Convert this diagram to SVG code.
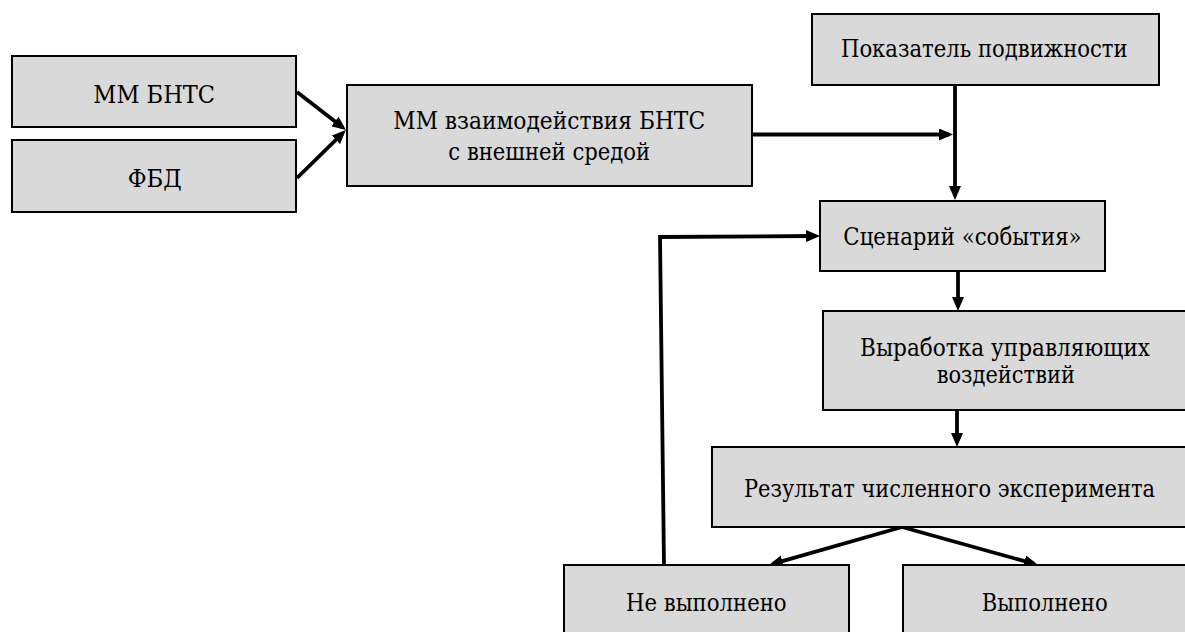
<svg xmlns="http://www.w3.org/2000/svg" width="1185" height="632" viewBox="0 0 1185 632">
  <style>
    .box { fill: #d9d9d9; stroke: #000; stroke-width: 2; }
    .lbl { font-family: "DejaVu Serif", "Liberation Serif", serif; font-stretch: condensed; font-size: 25px; fill: #000; text-anchor: middle; }
    .con { fill: none; stroke: #000; stroke-width: 3.8; stroke-linejoin: miter; }
  </style>
  <defs>
    <marker id="arr" viewBox="0 0 14 12" refX="10" refY="6" markerWidth="14" markerHeight="12" markerUnits="userSpaceOnUse" orient="auto">
      <path d="M0,0 L14,6 L0,12 z" fill="#000"/>
    </marker>
  </defs>
  <rect width="1185" height="632" fill="#fff"/>

  <g id="connectors">
    <line class="con" x1="297" y1="92" x2="342.8" y2="127.6" marker-end="url(#arr)"/>
    <line class="con" x1="297" y1="178" x2="343" y2="132.8" marker-end="url(#arr)"/>
    <line class="con" x1="752" y1="134.5" x2="949" y2="134.5" marker-end="url(#arr)"/>
    <line class="con" x1="955" y1="85" x2="955" y2="196" marker-end="url(#arr)"/>
    <line class="con" x1="958" y1="271" x2="958" y2="307" marker-end="url(#arr)"/>
    <line class="con" x1="957" y1="410" x2="957" y2="443" marker-end="url(#arr)"/>
    <line class="con" x1="902" y1="527" x2="772.8" y2="563.9" marker-end="url(#arr)"/>
    <line class="con" x1="902" y1="527" x2="1034.2" y2="563.9" marker-end="url(#arr)"/>
    <polyline class="con" points="664,565 660,237 816,236" marker-end="url(#arr)"/>
  </g>

  <g id="mm_bnts">
    <rect class="box" x="12" y="56" width="284" height="71"/>
    <text class="lbl" x="154.2" y="103" textLength="121.7" lengthAdjust="spacingAndGlyphs">ММ БНТС</text>
  </g>
  <g id="fbd">
    <rect class="box" x="12" y="140" width="284" height="72"/>
    <text class="lbl" x="154.7" y="187" textLength="54" lengthAdjust="spacingAndGlyphs">ФБД</text>
  </g>
  <g id="mm_interaction">
    <rect class="box" x="347" y="85" width="405" height="101"/>
    <text class="lbl" x="549.2" y="129" textLength="311.7" lengthAdjust="spacingAndGlyphs">ММ взаимодействия БНТС</text>
    <text class="lbl" x="549.2" y="160" textLength="201.7" lengthAdjust="spacingAndGlyphs">с внешней средой</text>
  </g>
  <g id="mobility">
    <rect class="box" x="812" y="14" width="347" height="71"/>
    <text class="lbl" x="984.3" y="57" textLength="286.7" lengthAdjust="spacingAndGlyphs">Показатель подвижности</text>
  </g>
  <g id="scenario">
    <rect class="box" x="820" y="201" width="285" height="70"/>
    <text class="lbl" x="962.5" y="245" textLength="238.3" lengthAdjust="spacingAndGlyphs">Сценарий «события»</text>
  </g>
  <g id="control">
    <rect class="box" x="823" y="311" width="380" height="99"/>
    <text class="lbl" x="1005" y="356" textLength="290" lengthAdjust="spacingAndGlyphs">Выработка управляющих</text>
    <text class="lbl" x="1005.8" y="383" textLength="138.3" lengthAdjust="spacingAndGlyphs">воздействий</text>
  </g>
  <g id="result">
    <rect class="box" x="712" y="447" width="500" height="80"/>
    <text class="lbl" x="949.5" y="497" textLength="411" lengthAdjust="spacingAndGlyphs">Результат численного эксперимента</text>
  </g>
  <g id="not_done">
    <rect class="box" x="564" y="565" width="285" height="80"/>
    <text class="lbl" x="706.3" y="611" textLength="160.7" lengthAdjust="spacingAndGlyphs">Не выполнено</text>
  </g>
  <g id="done">
    <rect class="box" x="903" y="565" width="300" height="80"/>
    <text class="lbl" x="1044.7" y="611" textLength="126" lengthAdjust="spacingAndGlyphs">Выполнено</text>
  </g>
</svg>
